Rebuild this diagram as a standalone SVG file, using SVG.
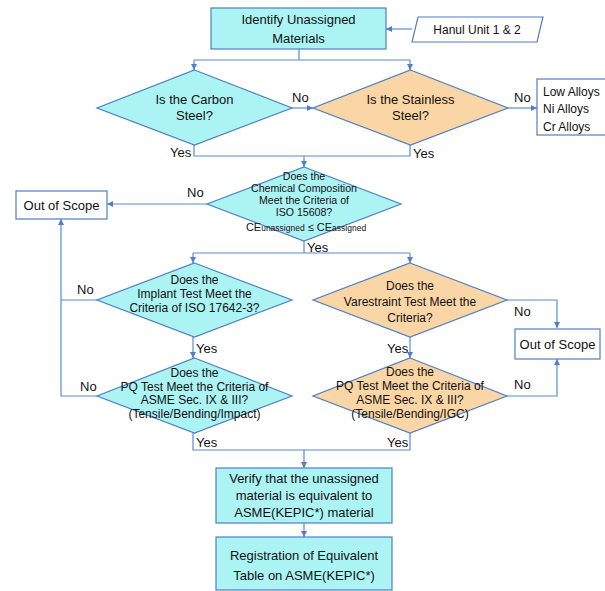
<svg xmlns="http://www.w3.org/2000/svg" width="605" height="591" viewBox="0 0 605 591">
<defs>
<marker id="arr" viewBox="0 0 10 10" refX="10" refY="5" markerWidth="6" markerHeight="6" orient="auto" markerUnits="userSpaceOnUse">
<path d="M0,0 L10,5 L0,10 z" fill="#4f7fc4"/>
</marker>
<style>
.cy{fill:#acf4f4;stroke:#4f7fc4;stroke-width:1.2}
.or{fill:#fad6a6;stroke:#4f7fc4;stroke-width:1.2}
.wh{fill:#ffffff;stroke:#4f7fc4;stroke-width:1.2}
.ln{fill:none;stroke:#5b8bd0;stroke-width:1.2}
.ar{fill:none;stroke:#5b8bd0;stroke-width:1.2;marker-end:url(#arr)}
text{font-family:"Liberation Sans","DejaVu Sans",sans-serif;fill:#111111;font-size:12px}
.c{text-anchor:middle}
.b{font-size:13px}
.s{font-size:10.6px}
.t{font-size:8.5px}
</style>
</defs>
<rect width="605" height="591" fill="#ffffff"/>
<g id="connectors">
<path class="ln" d="M299,49 V60 M194,60 H410"/>
<path class="ar" d="M194,60 V70"/>
<path class="ar" d="M410,60 V70"/>
<path class="ar" d="M412,29 H386"/>
<path class="ar" d="M292,108 H313"/>
<path class="ar" d="M508,108 H537"/>
<path class="ln" d="M194,145 V156 H410 V145"/>
<path class="ar" d="M304,156 V167"/>
<path class="ar" d="M207,204 H107"/>
<path class="ln" d="M304,241 V253 M193,253 H410"/>
<path class="ar" d="M193,253 V263"/>
<path class="ar" d="M410,253 V263"/>
<path class="ln" d="M97,300 H61"/>
<path class="ar" d="M97,396 H61 V219"/>
<path class="ar" d="M193,337 V358"/>
<path class="ar" d="M507,300 H557 V328"/>
<path class="ar" d="M410,337 V358"/>
<path class="ar" d="M507,396 H557 V359"/>
<path class="ln" d="M193,433 V450 H410 V433"/>
<path class="ar" d="M304,450 V468"/>
<path class="ar" d="M304,523 V537"/>
<text class="b" x="292" y="102">No</text>
<text class="b" x="514" y="102">No</text>
<text class="b" x="170" y="157">Yes</text>
<text class="b" x="413" y="158">Yes</text>
<text class="b" x="187" y="197">No</text>
<text class="b" x="307" y="252">Yes</text>
<text class="b" x="77" y="294">No</text>
<text class="b" x="80" y="391">No</text>
<text class="b" x="196" y="353">Yes</text>
<text class="b" x="196" y="447">Yes</text>
<text class="b" x="514" y="316">No</text>
<text class="b" x="514" y="389">No</text>
<text class="b" x="387" y="353">Yes</text>
<text class="b" x="387" y="447">Yes</text>
</g>
<g id="identify">
<rect class="cy" x="211" y="8" width="175" height="41"/>
<text class="c b" x="298.5" y="24">Identify Unassigned</text>
<text class="c b" x="298.5" y="43">Materials</text>
</g>
<g id="hanul">
<polygon class="wh" points="418,17 543,17 537,42 412,42"/>
<text class="c" x="477" y="34">Hanul Unit 1 &amp; 2</text>
</g>
<g id="carbon">
<polygon class="cy" points="194.5,70 292,108 194.5,145 97,108"/>
<text class="c b" x="194.5" y="104">Is the Carbon</text>
<text class="c b" x="194.5" y="120">Steel?</text>
</g>
<g id="stainless">
<polygon class="or" points="410.5,70 508,108 410.5,145 313,108"/>
<text class="c b" x="410.5" y="104">Is the Stainless</text>
<text class="c b" x="410.5" y="120">Steel?</text>
</g>
<g id="alloys">
<rect class="wh" x="537" y="79" width="75" height="56"/>
<text x="543" y="96">Low Alloys</text>
<text x="543" y="113">Ni Alloys</text>
<text x="543" y="131">Cr Alloys</text>
</g>
<g id="chemical">
<polygon class="cy" points="304,167 401,204 304,241 207,204"/>
<text class="c s" x="304" y="180">Does the</text>
<text class="c s" x="304" y="192">Chemical Composition</text>
<text class="c s" x="304" y="204">Meet the Criteria of</text>
<text class="c s" x="304" y="216">ISO 15608?</text>
<text class="c" x="306" y="231" style="font-size:11px">CE<tspan class="t">unassigned</tspan> ≤ CE<tspan class="t">assigned</tspan></text>
</g>
<g id="out-of-scope-left">
<rect class="wh" x="16" y="191" width="91" height="28"/>
<text class="c b" x="61.5" y="210">Out of Scope</text>
</g>
<g id="implant">
<polygon class="cy" points="194.5,263 292,300 194.5,337 97,300"/>
<text class="c" x="194.5" y="284">Does the</text>
<text class="c" x="194.5" y="298">Implant Test Meet the</text>
<text class="c" x="194.5" y="312">Criteria of ISO 17642-3?</text>
</g>
<g id="pq-carbon">
<polygon class="cy" points="194.5,358 292,396 194.5,433 97,396"/>
<text class="c" x="194.5" y="377">Does the</text>
<text class="c" x="194.5" y="391">PQ Test Meet the Criteria of</text>
<text class="c" x="194.5" y="404">ASME Sec. IX &amp; III?</text>
<text class="c" x="194.5" y="418">(Tensile/Bending/Impact)</text>
</g>
<g id="varestraint">
<polygon class="or" points="410,263 507,300 410,337 313,300"/>
<text class="c" x="410" y="290">Does the</text>
<text class="c" x="410" y="306">Varestraint Test Meet the</text>
<text class="c" x="410" y="322">Criteria?</text>
</g>
<g id="out-of-scope-right">
<rect class="wh" x="515" y="329" width="85" height="30"/>
<text class="c b" x="557.5" y="349">Out of Scope</text>
</g>
<g id="pq-stainless">
<polygon class="or" points="410,358 507,396 410,433 313,396"/>
<text class="c" x="410" y="376">Does the</text>
<text class="c" x="410" y="390">PQ Test Meet the Criteria of</text>
<text class="c" x="410" y="404">ASME Sec. IX &amp; III?</text>
<text class="c" x="410" y="418">(Tensile/Bending/IGC)</text>
</g>
<g id="verify">
<rect class="cy" x="216" y="468" width="176" height="55"/>
<text class="c b" x="304" y="483">Verify that the unassigned</text>
<text class="c b" x="304" y="500">material is equivalent to</text>
<text class="c b" x="304" y="517">ASME(KEPIC*) material</text>
</g>
<g id="registration">
<rect class="cy" x="216" y="537" width="176" height="53"/>
<text class="c b" x="304" y="560">Registration of Equivalent</text>
<text class="c b" x="304" y="580">Table on ASME(KEPIC*)</text>
</g>
</svg>
